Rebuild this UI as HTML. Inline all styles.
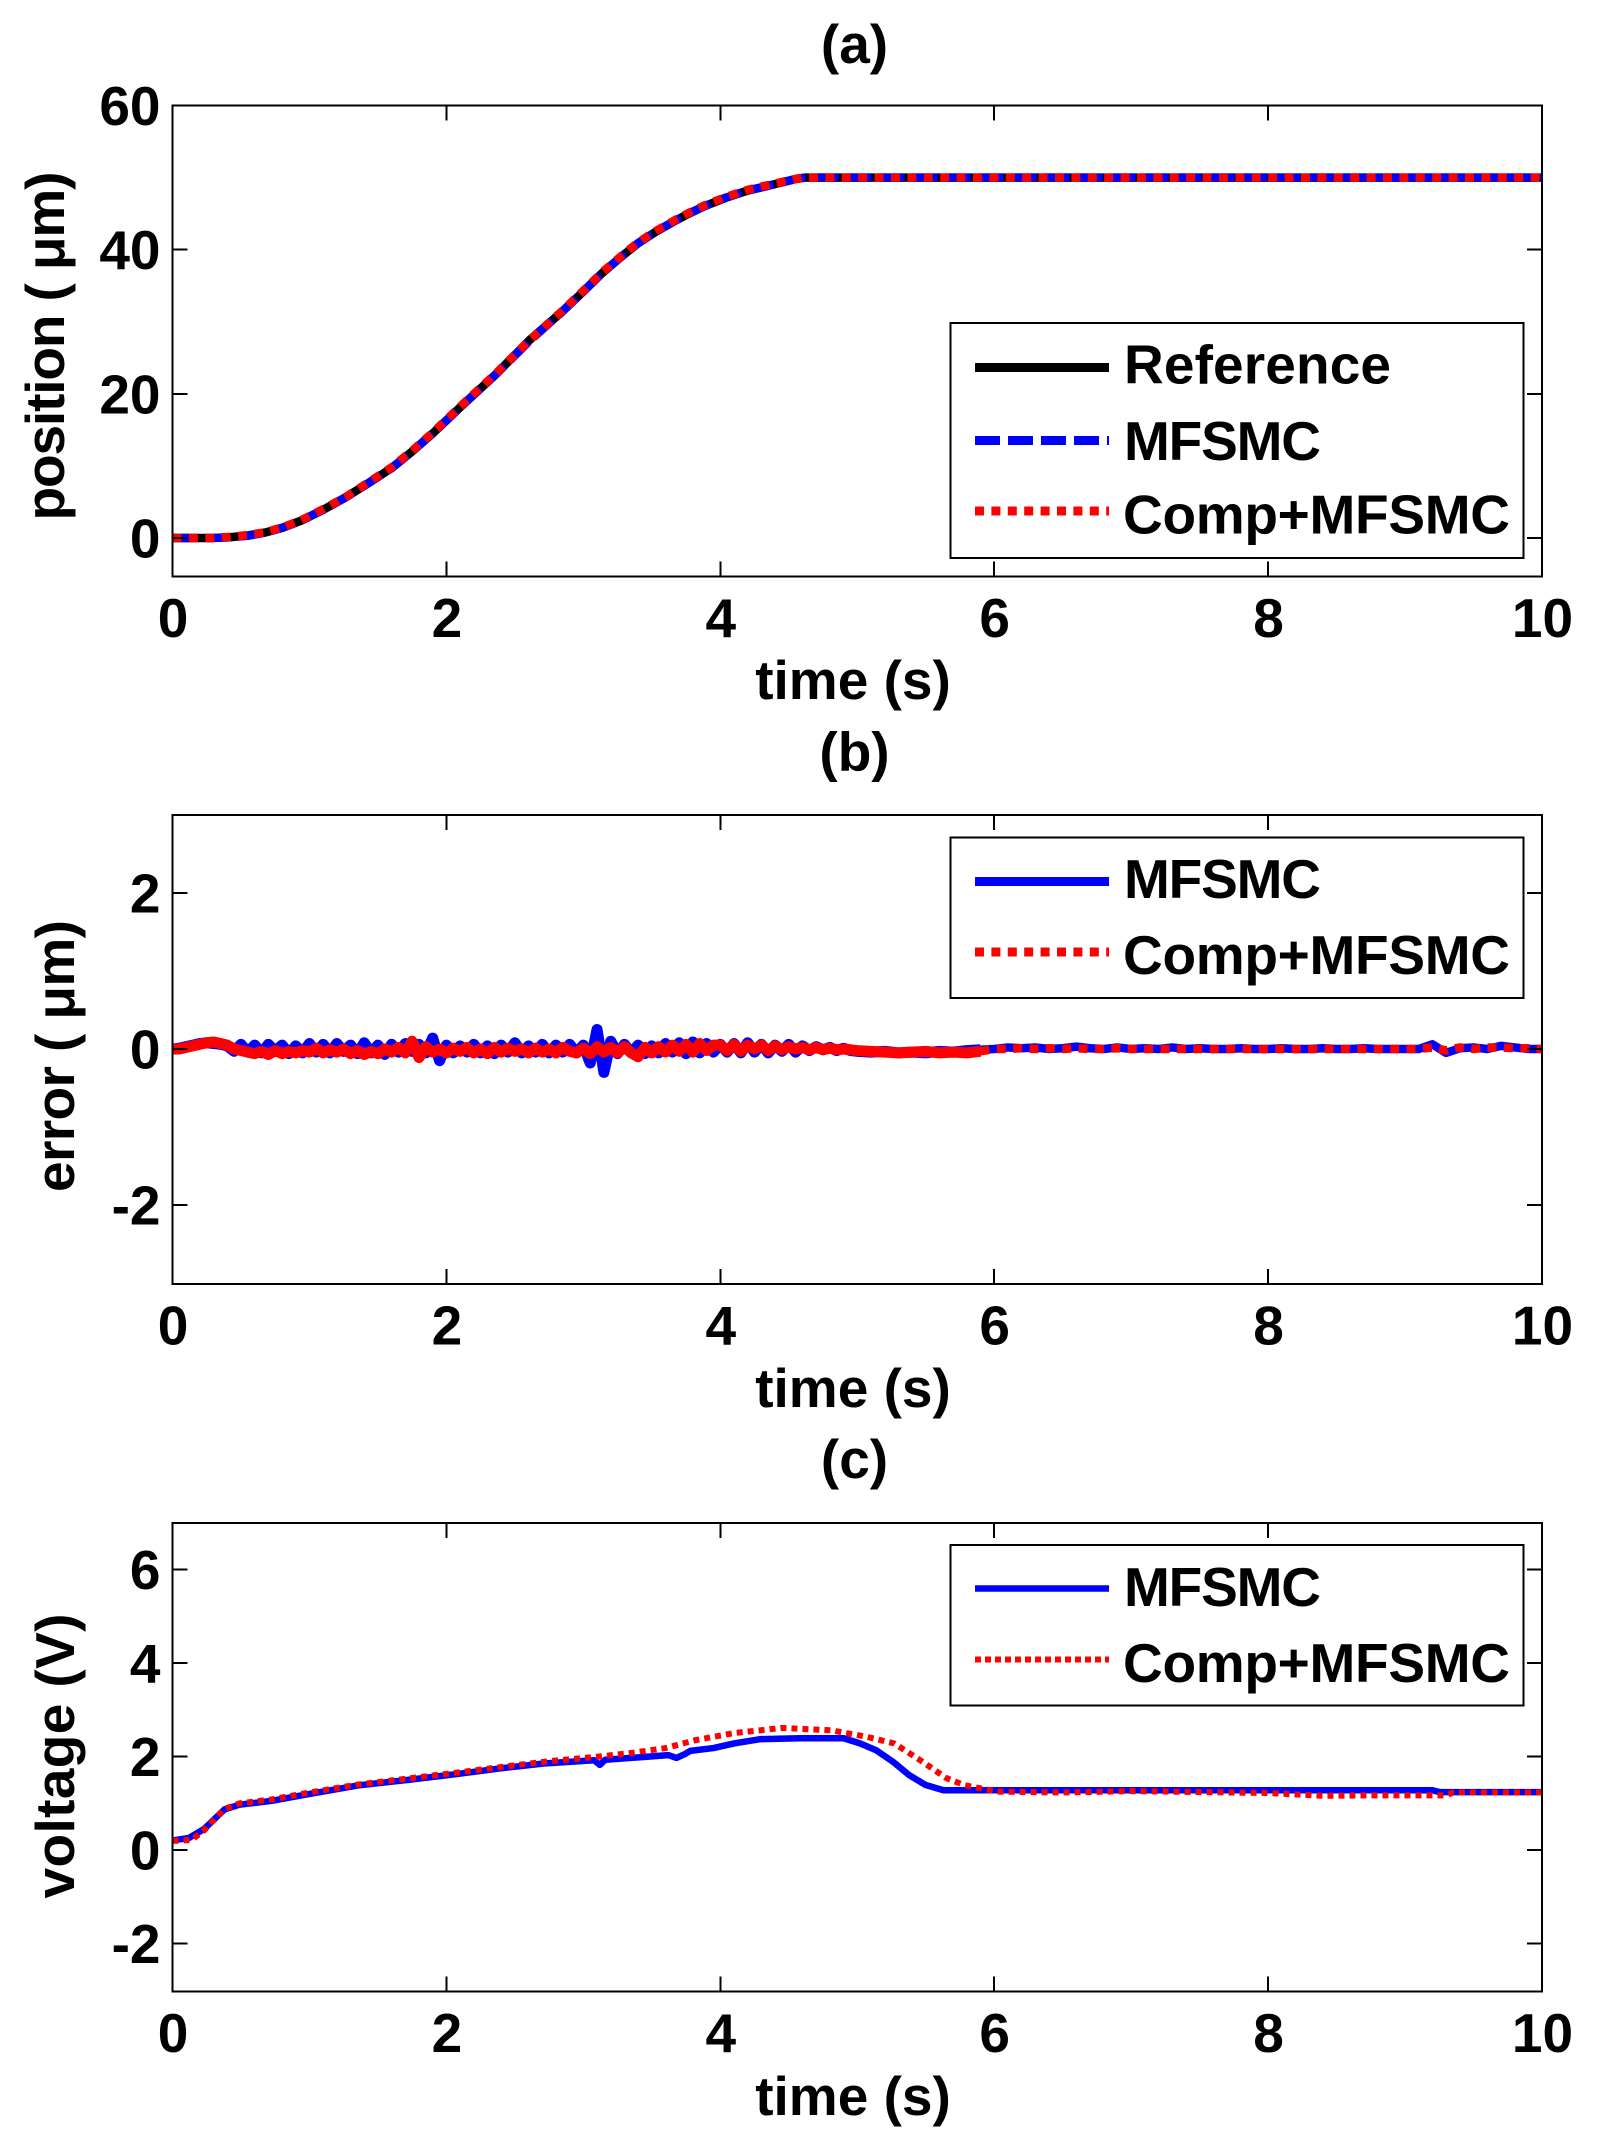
<!DOCTYPE html>
<html lang="en">
<head>
<meta charset="utf-8">
<title>Position, error and voltage time responses</title>
<style>
html,body{margin:0;padding:0;background:#fff;}
svg{display:block;}
text{font-family:"Liberation Sans",sans-serif;font-weight:bold;fill:#000;font-size:55px;}
.frame{fill:none;stroke:#000;stroke-width:2;shape-rendering:crispEdges;}
.legend-box{fill:#fff;stroke:#000;stroke-width:2;shape-rendering:crispEdges;}
.tick{stroke:#000;stroke-width:2;shape-rendering:crispEdges;}
</style>
</head>
<body>
<svg xmlns="http://www.w3.org/2000/svg" width="1599" height="2150" viewBox="0 0 1599 2150">
  <rect x="0" y="0" width="1599" height="2150" fill="#fff"/>

  <!-- Panel (a) -->
  <g>
    <text x="854.5" y="63" text-anchor="middle">(a)</text>
    <g id="panel-a-marks"></g>
    <rect class="frame" x="172.5" y="105.5" width="1369.5" height="471"/>
    <text x="853" y="699" text-anchor="middle">time (s)</text>
    <text transform="translate(64,346) rotate(-90)" text-anchor="middle" textLength="349">position ( μm)</text>
    <g>
      <rect class="legend-box" x="950.5" y="323" width="573" height="235"/>
      <line x1="975" x2="1109" y1="367.5" y2="367.5" stroke="#000" stroke-width="9"/>
      <text x="1124" y="383.5" textLength="267">Reference</text>
      <line x1="975" x2="1109" y1="440.5" y2="440.5" stroke="#00f" stroke-width="9" stroke-dasharray="25 8"/>
      <text x="1124" y="460" textLength="197">MFSMC</text>
      <line x1="975" x2="1109" y1="511" y2="511" stroke="#f00" stroke-width="9" stroke-dasharray="9 7.4"/>
      <text x="1123" y="533.5" textLength="387">Comp+MFSMC</text>
    </g>
  </g>

  <!-- Panel (b) -->
  <g>
    <text x="854.5" y="770.5" text-anchor="middle">(b)</text>
    <g id="panel-b-marks"></g>
    <rect class="frame" x="172.5" y="815" width="1369.5" height="469"/>
    <text x="853" y="1407" text-anchor="middle">time (s)</text>
    <text transform="translate(74,1056) rotate(-90)" text-anchor="middle" textLength="272">error ( μm)</text>
    <g>
      <rect class="legend-box" x="950.5" y="837.5" width="573" height="160.5"/>
      <line x1="975" x2="1109" y1="881.5" y2="881.5" stroke="#00f" stroke-width="9"/>
      <text x="1124" y="898" textLength="197">MFSMC</text>
      <line x1="975" x2="1109" y1="952" y2="952" stroke="#f00" stroke-width="9" stroke-dasharray="9 7.4"/>
      <text x="1123" y="974" textLength="387">Comp+MFSMC</text>
    </g>
  </g>

  <!-- Panel (c) -->
  <g>
    <text x="854.5" y="1478" text-anchor="middle">(c)</text>
    <g id="panel-c-marks"></g>
    <rect class="frame" x="172.5" y="1523" width="1369.5" height="468.5"/>
    <text x="853" y="2115" text-anchor="middle">time (s)</text>
    <text transform="translate(74,1756) rotate(-90)" text-anchor="middle" textLength="285">voltage (V)</text>
    <g>
      <rect class="legend-box" x="950.5" y="1545" width="573" height="160.5"/>
      <line x1="975" x2="1109" y1="1588.5" y2="1588.5" stroke="#00f" stroke-width="6.5"/>
      <text x="1124" y="1606" textLength="197">MFSMC</text>
      <line x1="975" x2="1109" y1="1659.5" y2="1659.5" stroke="#f00" stroke-width="6" stroke-dasharray="6 4"/>
      <text x="1123" y="1682" textLength="387">Comp+MFSMC</text>
    </g>
  </g>
</svg>

<script>
// ---- Shared axis data ----
var xTickValues = [0, 2, 4, 6, 8, 10];

// ---- Panel (a): position ----
var positionTicks = [0, 20, 40, 60];
var positionTime = [0, 0.3, 0.42, 0.55, 0.68, 0.8, 0.94, 1.1, 1.27, 1.43, 1.6, 1.75, 1.9, 2.11, 2.35, 2.61, 2.84, 3.0, 3.14, 3.27, 3.4, 3.53, 3.66, 3.77, 3.88, 4.04, 4.2, 4.38, 4.55, 4.62, 5, 6, 7, 8, 9, 10];
var referencePosition = [0, 0, 0.1, 0.35, 0.76, 1.4, 2.4, 3.9, 5.7, 7.6, 9.7, 12, 14.5, 18.3, 22.5, 27.5, 31.3, 34.2, 36.8, 38.9, 40.9, 42.5, 43.9, 45, 46, 47.2, 48.2, 49.0, 49.8, 50, 50, 50, 50, 50, 50, 50];
var mfsmcPosition = [0, 0, 0.1, 0.3, 0.75, 1.4, 2.4, 3.9, 5.7, 7.6, 9.7, 12, 14.5, 18.3, 22.5, 27.4, 31.3, 34.2, 36.8, 38.9, 40.9, 42.5, 43.9, 45, 46, 47.2, 48.2, 49.0, 49.8, 50, 50, 50, 50, 50, 50, 50];
var compPosition = [0, 0, 0.15, 0.4, 0.8, 1.45, 2.45, 4, 5.75, 7.7, 9.8, 12.1, 14.6, 18.4, 22.6, 27.5, 31.4, 34.3, 36.9, 39, 41, 42.6, 44, 45.1, 46.1, 47.3, 48.3, 49.1, 49.8, 50, 50, 50, 50, 50, 50, 50];

// ---- Panel (b): error ----
var errorTicks = [-2, 0, 2];
var errorTime = [
 0,0.05,0.1,0.15,0.2,0.25,0.3,0.35,0.4,0.45,0.5,0.55,0.6,0.65,0.7,0.75,0.8,0.85,0.9,0.95,
 1,1.05,1.1,1.15,1.2,1.25,1.3,1.35,1.4,1.45,1.5,1.55,1.6,1.65,1.7,1.75,1.8,1.85,1.9,1.95,
 2,2.05,2.1,2.15,2.2,2.25,2.3,2.35,2.4,2.45,2.5,2.55,2.6,2.65,2.7,2.75,2.8,2.85,2.9,2.95,
 3,3.05,3.1,3.15,3.2,3.25,3.3,3.35,3.4,3.45,3.5,3.55,3.6,3.65,3.7,3.75,3.8,3.85,3.9,3.95,
 4,4.05,4.1,4.15,4.2,4.25,4.3,4.35,4.4,4.45,4.5,4.55,4.6,4.65,4.7,4.75,4.8,4.85,4.9,4.95,
 5,5.1,5.2,5.3,5.4,5.5,5.6,5.7,5.8,5.9,
 6,6.1,6.2,6.3,6.4,6.5,6.6,6.7,6.8,6.9,
 7,7.1,7.2,7.3,7.4,7.5,7.6,7.7,7.8,7.9,
 8,8.1,8.2,8.3,8.4,8.5,8.6,8.7,8.8,8.9,
 9,9.1,9.2,9.3,9.4,9.5,9.6,9.7,9.8,9.9,10];
var mfsmcError = [
 0,0.01,0.03,0.05,0.07,0.08,0.07,0.06,0.04,-0.03,0.06,-0.04,0.05,-0.05,0.06,-0.03,0.05,-0.06,0.04,-0.05,
 0.07,-0.04,0.06,-0.05,0.07,-0.03,0.05,-0.06,0.08,-0.05,0.05,-0.07,0.06,-0.04,0.07,-0.03,0.06,-0.05,0.14,-0.15,
 0.05,-0.05,0.04,-0.04,0.06,-0.05,0.04,-0.06,0.05,-0.04,0.08,-0.05,0.04,-0.04,0.06,-0.05,0.05,-0.04,0.06,-0.05,
 0.05,-0.18,0.25,-0.30,0.10,-0.06,0.06,-0.05,0.05,-0.06,0.04,-0.05,0.07,-0.04,0.08,-0.06,0.09,-0.05,0.07,-0.04,
 0.06,-0.04,0.07,-0.05,0.08,-0.04,0.06,-0.05,0.05,-0.03,0.06,-0.04,0.04,-0.02,0.03,-0.01,0.02,-0.02,0.01,-0.02,
 -0.03,-0.04,-0.03,-0.05,-0.04,-0.05,-0.03,-0.04,-0.02,-0.01,
 0,0.02,0.01,0.02,0,0.01,0.03,0.01,0,0.02,
 0,0.01,0,0.02,0,0.01,0,0,0.01,0,
 0,0.01,0,0,0.01,0,0,0.01,0,0,
 0,0,0.06,-0.05,0.01,0.02,0,0.04,0.02,0,0];
var compError = [
 0,0,0.02,0.04,0.06,0.08,0.09,0.07,0.05,0,-0.02,-0.04,-0.06,-0.03,-0.07,-0.02,-0.06,-0.03,-0.05,-0.02,
 -0.04,0.01,-0.05,-0.01,-0.04,0,-0.06,-0.02,-0.07,-0.03,-0.06,0,-0.04,0.02,-0.05,0.10,-0.11,0.03,-0.04,0,
 -0.05,0.01,-0.03,0.02,-0.05,0,-0.06,0.02,-0.04,0.01,-0.03,0,-0.05,0.01,-0.04,0,-0.05,0.02,-0.03,-0.05,
 0.01,-0.06,0.03,-0.04,0.02,-0.05,0.03,-0.05,-0.10,0.02,-0.05,0.03,-0.04,0.05,-0.03,0.06,-0.04,0.07,-0.02,0.05,
 0.05,-0.02,0.06,-0.03,0.05,0,0.05,-0.02,0.04,-0.01,0.03,0,0.02,-0.01,0.02,-0.01,0.01,-0.01,0,-0.01,
 -0.02,-0.03,-0.04,-0.05,-0.04,-0.03,-0.05,-0.04,-0.05,-0.03,
 0,0,0.01,0,0.01,0,0.01,0,0,0.01,
 0,0,0,0,0,0,0,0,0,0,
 0,0,0,0,0,0,0,0,0,0,
 0,0,0.02,-0.02,0.02,0,0.02,0.02,0.01,0.01,0];

// ---- Panel (c): voltage ----
var voltageTicks = [-2, 0, 2, 4, 6];
var mfsmcVoltageTime = [0, 0.03, 0.12, 0.23, 0.38, 0.49, 0.72, 0.98, 1.35, 1.72, 2.09, 2.39, 2.71, 3.08, 3.12, 3.16, 3.44, 3.62, 3.68, 3.74, 3.78, 3.95, 4.1, 4.29, 4.58, 4.9, 5.02, 5.14, 5.26, 5.38, 5.5, 5.63, 6, 7, 8, 9.2, 9.25, 10];
var mfsmcVoltage = [0.2, 0.22, 0.26, 0.45, 0.87, 0.97, 1.05, 1.19, 1.38, 1.5, 1.63, 1.745, 1.85, 1.92, 1.82, 1.93, 1.99, 2.03, 1.97, 2.05, 2.12, 2.18, 2.28, 2.37, 2.39, 2.39, 2.28, 2.13, 1.89, 1.6, 1.39, 1.28, 1.28, 1.28, 1.28, 1.28, 1.24, 1.24];
var compVoltageTime = [0, 0.05, 0.14, 0.23, 0.38, 0.49, 0.72, 0.98, 1.35, 1.72, 2.09, 2.44, 2.75, 3.12, 3.36, 3.6, 3.82, 4.1, 4.45, 4.81, 5.07, 5.27, 5.46, 5.65, 5.78, 6.02, 6.5, 7, 8, 8.4, 8.8, 9.3, 9.35, 10];
var compVoltage = [0.2, 0.2, 0.22, 0.42, 0.88, 1.0, 1.08, 1.22, 1.4, 1.53, 1.66, 1.79, 1.9, 2.0, 2.08, 2.18, 2.35, 2.5, 2.61, 2.56, 2.42, 2.28, 1.92, 1.54, 1.39, 1.25, 1.23, 1.26, 1.22, 1.16, 1.17, 1.17, 1.23, 1.23];

// ---- Axis functions ----
var SVG_NS = 'http://www.w3.org/2000/svg';
var plotLeft = 172.5;
var plotRight = 1542;

function xScale(t) {
  return plotLeft + (t / 10) * (plotRight - plotLeft);
}
function makeYScale(domainMin, domainMax, pixelBottom, pixelTop) {
  return function (v) {
    return pixelBottom - (v - domainMin) / (domainMax - domainMin) * (pixelBottom - pixelTop);
  };
}
function drawTicks(group, yScale, yTicks, top, bottom) {
  var TICK = 15;
  xTickValues.forEach(function (v) {
    var x = xScale(v);
    [[top, top + TICK], [bottom, bottom - TICK]].forEach(function (ends) {
      var tick = document.createElementNS(SVG_NS, 'line');
      tick.setAttribute('class', 'tick');
      tick.setAttribute('x1', x);
      tick.setAttribute('x2', x);
      tick.setAttribute('y1', ends[0]);
      tick.setAttribute('y2', ends[1]);
      
      
      group.appendChild(tick);
    });
    var label = document.createElementNS(SVG_NS, 'text');
    label.setAttribute('x', x + 0.5);
    label.setAttribute('y', bottom + 60.5);
    label.setAttribute('text-anchor', 'middle');
    
    
    label.textContent = String(v);
    group.appendChild(label);
  });
  yTicks.forEach(function (v) {
    var y = yScale(v);
    [[plotLeft, plotLeft + TICK], [plotRight, plotRight - TICK]].forEach(function (ends) {
      var tick = document.createElementNS(SVG_NS, 'line');
      tick.setAttribute('class', 'tick');
      tick.setAttribute('x1', ends[0]);
      tick.setAttribute('x2', ends[1]);
      tick.setAttribute('y1', y);
      tick.setAttribute('y2', y);
      
      
      group.appendChild(tick);
    });
    var label = document.createElementNS(SVG_NS, 'text');
    label.setAttribute('x', 160.5);
    label.setAttribute('y', y + 19.5);
    label.setAttribute('text-anchor', 'end');
    
    
    label.textContent = String(v);
    group.appendChild(label);
  });
}
function drawSeries(group, name, times, values, yScale, color, width, dash) {
  var pts = times.map(function (t, i) {
    return xScale(t).toFixed(2) + ',' + yScale(values[i]).toFixed(2);
  }).join(' ');
  var line = document.createElementNS(SVG_NS, 'polyline');
  line.setAttribute('points', pts);
  line.setAttribute('fill', 'none');
  line.setAttribute('stroke', color);
  line.setAttribute('stroke-width', width);
  line.setAttribute('stroke-linejoin', 'round');
  if (dash) {
    line.setAttribute('stroke-dasharray', dash);
  }
  
  
  group.appendChild(line);
}

// ---- Render panels ----
var groupA = document.getElementById('panel-a-marks');
var yA = makeYScale(-5.35, 60, 576.5, 105.5);
drawSeries(groupA, 'series-reference', positionTime, referencePosition, yA, '#000', 8.5, null);
drawSeries(groupA, 'series-mfsmc', positionTime, mfsmcPosition, yA, '#00f', 8.5, '25 8');
drawSeries(groupA, 'series-comp-mfsmc', positionTime, compPosition, yA, '#f00', 8.5, '9 7.4');
drawTicks(groupA, yA, positionTicks, 105.5, 576.5);

var groupB = document.getElementById('panel-b-marks');
var yB = makeYScale(-3, 3, 1283, 815);
var noisyEnd = errorTime.indexOf(5.9) + 1;
drawSeries(groupB, 'series-mfsmc-error-noisy', errorTime.slice(0, noisyEnd), mfsmcError.slice(0, noisyEnd), yB, '#00f', 11, null);
drawSeries(groupB, 'series-mfsmc-error-settled', errorTime.slice(noisyEnd - 1), mfsmcError.slice(noisyEnd - 1), yB, '#00f', 8.5, null);
drawSeries(groupB, 'series-comp-mfsmc-error-noisy', errorTime.slice(0, noisyEnd), compError.slice(0, noisyEnd), yB, '#f00', 11, null);
drawSeries(groupB, 'series-comp-mfsmc-error-settled', errorTime.slice(noisyEnd - 1), compError.slice(noisyEnd - 1), yB, '#f00', 8.5, '9 7.4');
drawTicks(groupB, yB, errorTicks, 815, 1284);

var groupC = document.getElementById('panel-c-marks');
var yC = makeYScale(-3, 7, 1990.5, 1522.5);
drawSeries(groupC, 'series-mfsmc-voltage', mfsmcVoltageTime, mfsmcVoltage, yC, '#00f', 6.5, null);
drawSeries(groupC, 'series-comp-mfsmc-voltage', compVoltageTime, compVoltage, yC, '#f00', 6, '6 5');
drawTicks(groupC, yC, voltageTicks, 1523, 1991.5);
</script>
</body>
</html>
